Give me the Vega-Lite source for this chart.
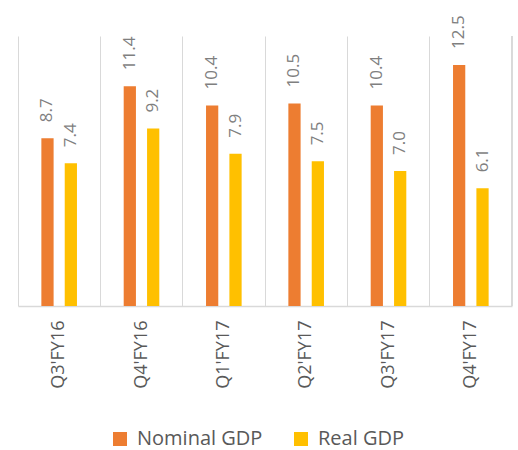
{
  "$schema": "https://vega.github.io/schema/vega-lite/v6.json",
  "width": 494,
  "height": 270,
  "autosize": "none",
  "padding": {"left": 18, "top": 36, "right": 6, "bottom": 144},
  "config": {"view": {"stroke": null}, "font": "Open Sans"},
  "data": {
    "values": [
      {"q": "Q3'FY16", "s": "Nominal GDP", "v": 8.7},
      {"q": "Q3'FY16", "s": "Real GDP", "v": 7.4},
      {"q": "Q4'FY16", "s": "Nominal GDP", "v": 11.4},
      {"q": "Q4'FY16", "s": "Real GDP", "v": 9.2},
      {"q": "Q1'FY17", "s": "Nominal GDP", "v": 10.4},
      {"q": "Q1'FY17", "s": "Real GDP", "v": 7.9},
      {"q": "Q2'FY17", "s": "Nominal GDP", "v": 10.5},
      {"q": "Q2'FY17", "s": "Real GDP", "v": 7.5},
      {"q": "Q3'FY17", "s": "Nominal GDP", "v": 10.4},
      {"q": "Q3'FY17", "s": "Real GDP", "v": 7.0},
      {"q": "Q4'FY17", "s": "Nominal GDP", "v": 12.5},
      {"q": "Q4'FY17", "s": "Real GDP", "v": 6.1}
    ]
  },
  "layer": [
    {
      "mark": {"type": "bar"},
      "encoding": {
        "x": {"field": "q", "type": "nominal", "sort": null,
          "scale": {"domain": ["Q3'FY16", "Q4'FY16", "Q1'FY17", "Q2'FY17", "Q3'FY17", "Q4'FY17"], "paddingInner": 0, "paddingOuter": 0},
          "axis": {
            "title": null, "labelAngle": -90, "labelFontSize": 18, "labelColor": "#595959",
            "labelPadding": 14, "ticks": false, "grid": true, "gridColor": "#d9d9d9",
            "bandPosition": 0, "domainColor": "#d9d9d9", "domainWidth": 1.5, "labelFont": "Open Sans"
          }
        },
        "xOffset": {"field": "s", "type": "nominal", "scale": {"paddingInner": 0.476, "paddingOuter": 1.2}},
        "y": {"field": "v", "type": "quantitative", "scale": {"domain": [0, 14]}, "axis": null},
        "color": {
          "field": "s", "type": "nominal",
          "scale": {"domain": ["Nominal GDP", "Real GDP"], "range": ["#ED7D31", "#FFC000"]},
          "legend": {
            "title": null, "orient": "none", "direction": "horizontal",
            "legendX": 92, "legendY": 393, "symbolType": "square", "symbolSize": 196,
            "symbolStrokeWidth": 0, "labelFontSize": 20, "labelColor": "#595959",
            "labelOffset": 7, "columnPadding": 28, "labelFont": "Open Sans"
          }
        }
      }
    },
    {
      "mark": {"type": "rule", "color": "#d9d9d9", "strokeWidth": 1},
      "encoding": {
        "x": {"datum": "Q4'FY17", "type": "nominal", "bandPosition": 1}
      }
    },
    {
      "mark": {"type": "text", "angle": -90, "align": "left", "baseline": "middle", "dx": 16, "fontSize": 17, "color": "#7f7f7f"},
      "encoding": {
        "x": {"field": "q", "type": "nominal", "sort": null},
        "xOffset": {"field": "s", "type": "nominal", "scale": {"paddingInner": 0.476, "paddingOuter": 1.2}},
        "y": {"field": "v", "type": "quantitative"},
        "text": {"field": "v", "type": "quantitative", "format": ".1f"}
      }
    }
  ]
}
